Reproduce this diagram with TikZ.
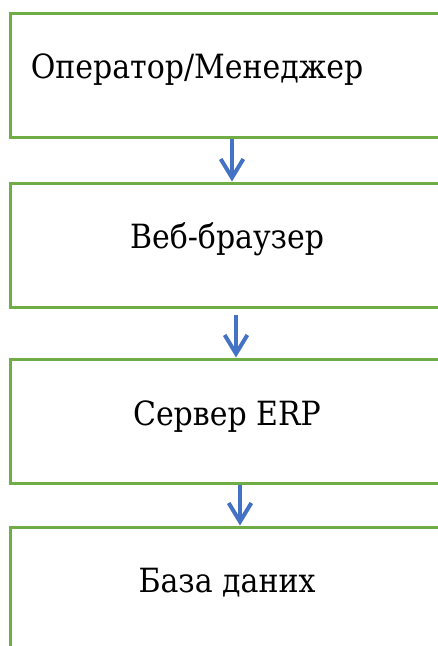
\documentclass[tikz,border=0pt]{standalone}
\usepackage{fontspec}
\IfFontExistsTF{DejaVu Serif Condensed}
  {\newfontfamily\timesish{DejaVu Serif Condensed}}
  {\newfontfamily\timesish[FakeStretch=0.9]{DejaVu Serif}}
\usepackage{tikz}
\usetikzlibrary{arrows.meta,positioning,calc}
\definecolor{leaf}{HTML}{70AD47}
\definecolor{flow}{HTML}{4472C4}

\begin{document}
\begin{tikzpicture}[x=0.75pt,y=-0.75pt,font=\timesish\fontsize{25}{30}\selectfont]
\tikzset{tier/.style={draw=leaf,line width=2.25pt,minimum width=325.5pt,minimum height=93pt,inner sep=0pt}, caption/.style={anchor=base,inner sep=0pt}, hop/.style={draw=flow,line width=3pt,-{Straight Barb[length=14pt,width=17pt,line width=3pt]}}}
\useasboundingbox (0,0) rectangle (438,646);
\clip (0,0) rectangle (438,646);
\node[tier] (op) at (227,75) {};
\node[tier] (web) at (227,245) {};
\node[tier] (erp) at (227,421) {};
\node[tier,minimum height=120pt] (db) at (227,607) {};
% captions sit on a common baseline just below each box centre
\node[caption,anchor=base west] (opt) at ($(op.west)+(22,3)$) {Оператор/Менеджер};
\node[caption] (webt) at ($(web.center)+(0,3)$) {Веб-браузер};
\node[caption] (erpt) at ($(erp.center)+(0,4)$) {Сервер ERP};
\node[caption] (dbt) at ($(db.center)+(0,-15)$) {База даних};
\coordinate (a1) at ($(op.south)+(5,0)$);
\coordinate (a2) at ($(web.south)+(9,6)$);
\coordinate (a3) at ($(erp.south)+(13,0)$);
\draw[hop] (a1) -- (a1 |- web.north);
\draw[hop] (a2) -- (a2 |- erp.north);
\draw[hop] (a3) -- (a3 |- db.north);
\end{tikzpicture}
\end{document}
